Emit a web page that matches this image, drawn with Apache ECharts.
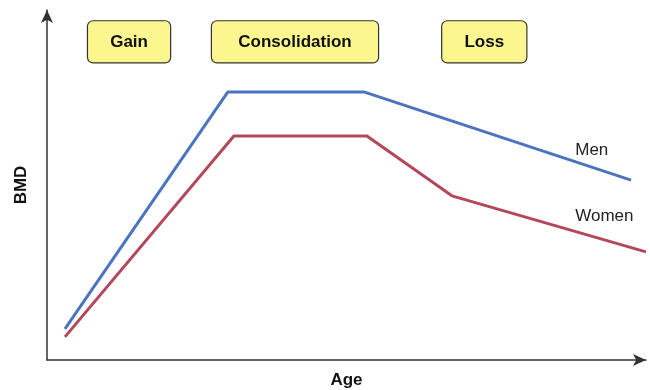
<!DOCTYPE html>
<html>
<head>
<meta charset="utf-8">
<script src="https://cdn.jsdelivr.net/npm/echarts@6/dist/echarts.min.js"></script>
<style>
  html, body { margin: 0; padding: 0; background: #fff; }
  #container { width: 650px; height: 390px; }
</style>
</head>
<body>
<div id="container"></div>
<script type="text/javascript">
// schematic: age (0-100) vs BMD (0-100), no real units
var men = [[3.0, 8.9], [30.2, 76.6], [52.9, 76.6], [97.5, 51.4]];
var women = [[3.0, 6.6], [31.2, 64.0], [53.4, 64.0], [67.6, 46.9], [100, 30.9]];

// phase boxes along the top: name, centre x, box width
var phases = ['Gain', 'Consolidation', 'Loss'];
var phaseX = [13.7, 41.4, 73.0];
var phaseW = [82, 166, 84];
var phaseY = 90.9;

// series end labels
var seriesNames = ['Men', 'Women'];
var labelPos = [[88.1, 60.0], [88.1, 41.0]];

var font = 'Liberation Sans, Arial, sans-serif';

var myChart = echarts.init(document.getElementById('container'));

var phaseMarks = phases.map(function (p, i) {
  return {
    name: p,
    coord: [phaseX[i], phaseY],
    symbol: 'circle',
    symbolSize: 1,
    itemStyle: { color: 'rgba(0,0,0,0)' },
    label: {
      show: true, position: 'inside', formatter: p,
      color: '#111', fontSize: 17, fontWeight: 'bold', fontFamily: font,
      backgroundColor: '#fbf68e', borderColor: '#333', borderWidth: 1.2, borderRadius: 5,
      width: phaseW[i], height: 41, lineHeight: 41, align: 'center', padding: 0
    }
  };
});

function nameMark(i) {
  return {
    data: [{
      coord: labelPos[i],
      symbol: 'circle',
      symbolSize: 1,
      itemStyle: { color: 'rgba(0,0,0,0)' },
      label: { show: true, position: 'right', distance: 0, formatter: seriesNames[i], color: '#222', fontSize: 17, fontFamily: font }
    }]
  };
}

var option = {
  animation: false,
  grid: { left: 47, right: 4, top: 10, bottom: 30, outerBoundsMode: 'none', containLabel: false },
  xAxis: {
    type: 'value', min: 0, max: 100,
    name: 'Age', nameLocation: 'middle', nameGap: 12,
    nameTextStyle: { fontSize: 17, fontWeight: 'bold', color: '#111', fontFamily: font },
    axisLine: { lineStyle: { color: '#333', width: 1.5 }, symbol: ['none', 'arrow'], symbolSize: [9, 13], symbolOffset: [0, 0] },
    axisTick: { show: false }, axisLabel: { show: false }, splitLine: { show: false }
  },
  yAxis: {
    type: 'value', min: 0, max: 100,
    name: 'BMD', nameLocation: 'middle', nameGap: 17, nameRotate: 90,
    nameTextStyle: { fontSize: 17, fontWeight: 'bold', color: '#111', fontFamily: font },
    axisLine: { lineStyle: { color: '#333', width: 1.5 }, symbol: ['none', 'arrow'], symbolSize: [9, 13], symbolOffset: [0, 0] },
    axisTick: { show: false }, axisLabel: { show: false }, splitLine: { show: false }
  },
  series: [
    {
      name: 'Men', type: 'line', data: men, symbol: 'none',
      lineStyle: { color: '#4a74c0', width: 3 },
      markPoint: nameMark(0)
    },
    {
      name: 'Women', type: 'line', data: women, symbol: 'none',
      lineStyle: { color: '#b5475b', width: 3 },
      markPoint: nameMark(1)
    },
    {
      name: 'phases', type: 'line', data: [], silent: true,
      markPoint: { data: phaseMarks }
    }
  ]
};
myChart.setOption(option);
</script>
</body>
</html>
